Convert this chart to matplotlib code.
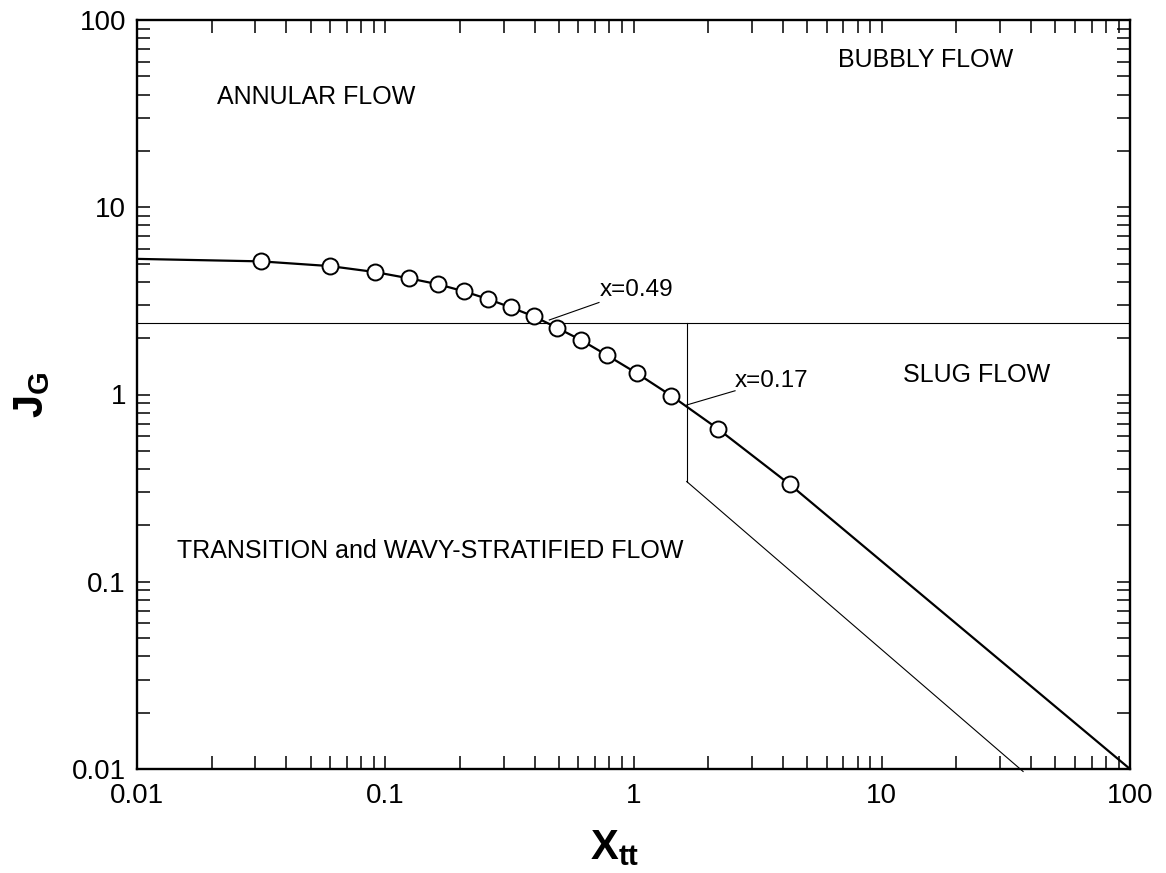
import matplotlib
matplotlib.use("Agg")
import matplotlib.pyplot as plt
from matplotlib.ticker import FixedLocator, LogLocator, NullFormatter

plt.rcParams['font.family'] = ['Liberation Sans', 'DejaVu Sans']
plt.rcParams['mathtext.fontset'] = 'custom'
plt.rcParams['mathtext.rm'] = 'Liberation Sans'
plt.rcParams['mathtext.bf'] = 'Liberation Sans:bold'

# ---- data ----
marker_x = [0.0316, 0.0599, 0.0907, 0.125, 0.163, 0.207, 0.260, 0.320, 0.398,
            0.492, 0.616, 0.782, 1.03, 1.42, 2.18, 4.26]
marker_y = [5.14, 4.85, 4.51, 4.17, 3.88, 3.56, 3.23, 2.92, 2.61,
            2.27, 1.95, 1.62, 1.30, 0.985, 0.658, 0.331]
curve_start = (0.01, 5.30)
curve_end = (100.0, 0.01)

horiz_y = 2.40                 # bubbly/slug boundary level
vert_x = 1.638                 # x=0.17 line
vert_y = [2.40, 0.343]
diag_x = [1.638, 37.1]
diag_y = [0.343, 0.0097]

xtick_vals = [0.01, 0.1, 1, 10, 100]
xtick_labels = ['0.01', '0.1', '1', '10', '100']
ytick_vals = [0.01, 0.1, 1, 10, 100]
ytick_labels = ['0.01', '0.1', '1', '10', '100']

regions = ['ANNULAR FLOW', 'BUBBLY FLOW', 'SLUG FLOW',
           'TRANSITION and WAVY-STRATIFIED FLOW']
region_x = [0.0210, 6.67, 12.18, 0.01449]
region_y = [38.9, 61.3, 1.27, 0.1466]

annot_text = ['x=0.49', 'x=0.17']
annot_pt = [(0.458, 2.50), (1.638, 0.879)]
annot_txt = [(0.733, 3.60), (2.565, 1.18)]
annot_leader_end = [(0.726, 3.10), (2.565, 1.047)]

# ---- figure ----
fig = plt.figure(figsize=(11.66, 8.73), dpi=100)
ax = fig.add_axes([137/1166, 1 - 769/873, (1130-137)/1166, (769-20)/873])
ax.set_xscale('log')
ax.set_yscale('log')
ax.set_xlim(0.01, 100)
ax.set_ylim(0.01, 100)

line_x = [curve_start[0]] + marker_x + [curve_end[0]]
line_y = [curve_start[1]] + marker_y + [curve_end[1]]
ax.plot(line_x, line_y, color='black', lw=1.6, zorder=3)
ax.plot(marker_x, marker_y, linestyle='none', marker='o', ms=11.5,
        mfc='white', mec='black', mew=1.4, zorder=4)

ax.plot([0.01, 100], [horiz_y, horiz_y], color='black', lw=0.8, zorder=2)
ax.plot([vert_x, vert_x], vert_y, color='black', lw=0.8, zorder=2)
ax.plot(diag_x, diag_y, color='black', lw=0.8, zorder=2, clip_on=False)

for (px, py), (ex, ey) in zip(annot_pt, annot_leader_end):
    ax.plot([px, ex], [py, ey], color='black', lw=0.8, zorder=2)
for t, (tx, ty) in zip(annot_text, annot_txt):
    ax.text(tx, ty, t, fontsize=17.5, ha='left', va='center')

for t, x, y in zip(regions, region_x, region_y):
    ax.text(x, y, t, fontsize=18, ha='left', va='center')

ax.xaxis.set_major_locator(FixedLocator(xtick_vals))
ax.set_xticklabels(xtick_labels)
ax.yaxis.set_major_locator(FixedLocator(ytick_vals))
ax.set_yticklabels(ytick_labels)
ax.xaxis.set_minor_locator(LogLocator(base=10, subs=range(2, 10), numticks=20))
ax.yaxis.set_minor_locator(LogLocator(base=10, subs=range(2, 10), numticks=20))
ax.xaxis.set_minor_formatter(NullFormatter())
ax.yaxis.set_minor_formatter(NullFormatter())

ax.tick_params(which='both', direction='in', top=True, right=True,
               length=9.5, width=1.1, labelsize=20)
ax.tick_params(axis='x', which='major', pad=10)
ax.tick_params(axis='y', which='major', pad=8)
for s in ax.spines.values():
    s.set_linewidth(1.7)

ax.set_xlabel(r'$\mathbf{X_{tt}}$', fontsize=30)
ax.xaxis.set_label_coords(0.481, -0.079)
ax.set_ylabel(r'$\mathbf{J_G}$', fontsize=30, labelpad=14)

fig.savefig('out.png', dpi=100)
